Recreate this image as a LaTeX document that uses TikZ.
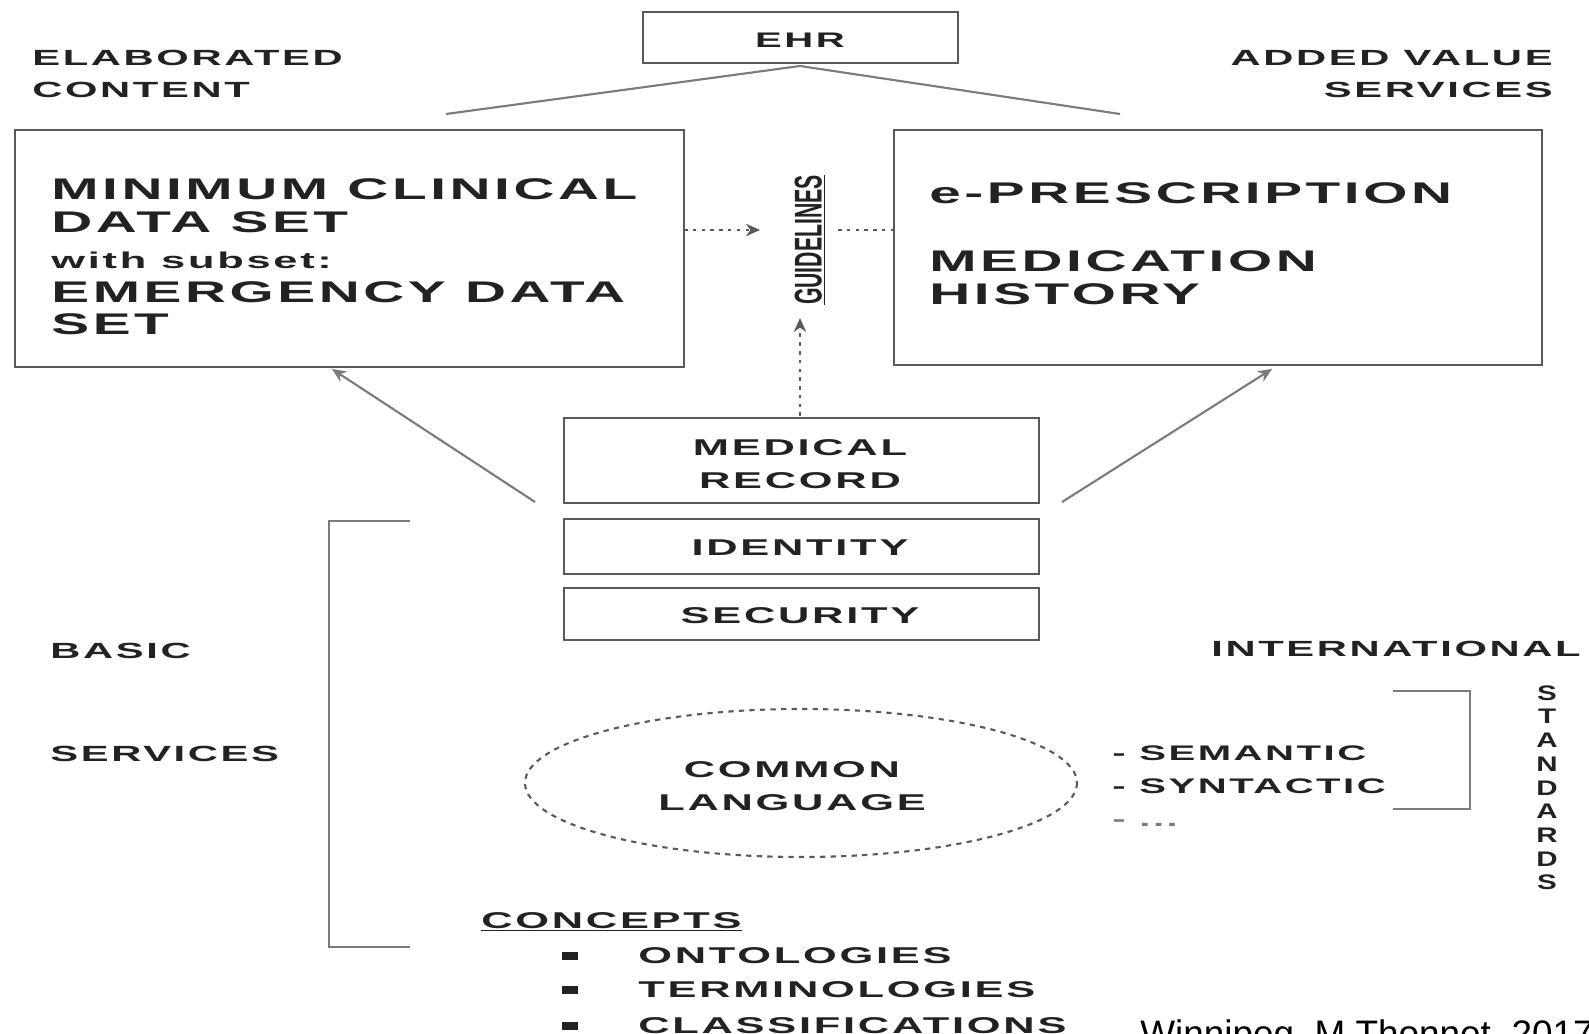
\documentclass[tikz,border=0pt]{standalone}
\usepackage{fontspec}
\setmainfont{Liberation Sans}
\newfontfamily\wf{Liberation Sans}[FakeStretch=1.9,LetterSpace=12]
\newfontfamily\gf{Liberation Sans}[FakeStretch=1.4]
\newfontfamily\cf{Liberation Sans}[FakeStretch=0.55]
\usetikzlibrary{arrows.meta}
\definecolor{ln}{HTML}{5A5A5A}
\definecolor{tx}{HTML}{222222}
\tikzset{
  box/.style={draw=ln,line width=1.6pt},
  lbl/.style={inner sep=0pt,text=tx,font=\wf\bfseries},
  conn/.style={draw=ln!80,line width=1.2pt},
  dots/.style={draw=ln,line width=1.4pt,dash pattern=on 2pt off 3pt},
  tip/.style={-{Stealth[length=8pt,width=7pt]}},
}
\newcommand{\fs}[1]{\fontsize{#1}{#1}\selectfont}
\begin{document}
\begin{tikzpicture}[x=0.02cm,y=-0.02cm]
\useasboundingbox (0,0) rectangle (1589,1034);
% EHR
\draw[box] (643,12) rectangle (958,63);
\node[lbl,font=\wf\bfseries\fs{12}] (ehr) at (800,40) {EHR};
\coordinate (ehrb) at (800,66);
\coordinate (ehrl) at (446,114);
\coordinate (ehrr) at (1120,114);
\draw[conn] (ehrl) -- (ehrb) -- (ehrr);
% corner labels
\node[lbl,anchor=west,font=\wf\bfseries\fs{12.5}] (elab) at (32,58) {ELABORATED};
\node[lbl,anchor=west,font=\wf\bfseries\fs{12.5}] (cont) at (32,90) {CONTENT};
\node[lbl,anchor=east,font=\wf\bfseries\fs{12.5}] (added) at (1553,58) {ADDED VALUE};
\node[lbl,anchor=east,font=\wf\bfseries\fs{12.5}] (serv) at (1553,90) {SERVICES};
% left box
\draw[box] (15,130) rectangle (684,367);
\coordinate (lbox) at (684,230);
\coordinate (lboxs) at (332,369);
\node[lbl,anchor=west,font=\wf\bfseries\fs{17}] (l1) at (51,189) {MINIMUM CLINICAL};
\node[lbl,anchor=west,font=\wf\bfseries\fs{17}] (l2) at (51,222) {DATA SET};
\node[lbl,anchor=west,font=\wf\bfseries\fs{13}] (l3) at (51,260) {with subset:};
\node[lbl,anchor=west,font=\wf\bfseries\fs{17}] (l4) at (51,292) {EMERGENCY DATA};
\node[lbl,anchor=west,font=\wf\bfseries\fs{17}] (l5) at (51,324) {SET};
% right box
\draw[box] (894,130) rectangle (1542,365);
\coordinate (rbox) at (894,230);
\coordinate (rboxs) at (1272,369);
\node[lbl,anchor=west,font=\wf\bfseries\fs{17}] (r1) at (929,193) {e-PRESCRIPTION};
\node[lbl,anchor=west,font=\wf\bfseries\fs{17}] (r2) at (929,261) {MEDICATION};
\node[lbl,anchor=west,font=\wf\bfseries\fs{17}] (r3) at (929,294) {HISTORY};
% guidelines
\node[lbl,rotate=90,font=\cf\bfseries\fs{22},inner sep=1pt] (guide) at (810,240) {\underline{GUIDELINES}};
\coordinate (gl) at (760,230);
\coordinate (gr) at (838,230);
\coordinate (gb) at (800,318);
\draw[dots,tip] (lbox) -- (gl);
\draw[dots] (gr) -- (rbox);
% stack
\draw[box] (564,418) rectangle (1039,503);
\node[lbl,font=\wf\bfseries\fs{13}] (med) at (800,448) {MEDICAL};
\node[lbl,font=\wf\bfseries\fs{13}] (rec) at (800,481) {RECORD};
\draw[box] (564,519) rectangle (1039,574);
\node[lbl,font=\wf\bfseries\fs{13}] (ident) at (800,548) {IDENTITY};
\draw[box] (564,588) rectangle (1039,640);
\node[lbl,font=\wf\bfseries\fs{13}] (secur) at (800,616) {SECURITY};
\coordinate (mrt) at (800,416);
\coordinate (mrl) at (535,502);
\coordinate (mrr) at (1062,502);
\draw[dots,tip] (mrt) -- (gb);
\draw[conn,tip] (mrl) -- (lboxs);
\draw[conn,tip] (mrr) -- (rboxs);
% left bracket
\coordinate (bt) at (410,521);
\coordinate (bb) at (410,947);
\draw[conn,line width=1.5pt] (bt) -- (329,521) -- (329,947) -- (bb);
\node[lbl,anchor=west,font=\wf\bfseries\fs{12.5}] (basic) at (50,651) {BASIC};
\node[lbl,anchor=west,font=\wf\bfseries\fs{12.5}] (bserv) at (50,754) {SERVICES};
% international
\node[lbl,anchor=east,font=\wf\bfseries\fs{12.5}] (intl) at (1581,649) {INTERNATIONAL};
% ellipse
\draw[ln,line width=1.2pt,dash pattern=on 3pt off 3pt] (801,783) ellipse [x radius=276, y radius=74];
\node[lbl,font=\wf\bfseries\fs{13}] (comm) at (792,770) {COMMON};
\node[lbl,font=\wf\bfseries\fs{13}] (lang) at (792,803) {LANGUAGE};
\node[lbl,anchor=west,font=\wf\bfseries\fs{12}] (sem) at (1112,753) {- SEMANTIC};
\node[lbl,anchor=west,font=\wf\bfseries\fs{12}] (syn) at (1112,786) {- SYNTACTIC};
\node[lbl,anchor=west,font=\wf\bfseries\fs{12},text=tx!60] (etc) at (1112,823) {- ...};
% right bracket
\draw[conn,line width=1.5pt] (1393,691) -- (1470,691) -- (1470,809) -- (1393,809);
% standards
\foreach \c [count=\i from 0] in {S,T,A,N,D,A,R,D,S}{
  \node[lbl,font=\gf\bfseries\fs{12}] (st\i) at (1547,{693+23.7*\i}) {\c};
}
% concepts
\node[lbl,anchor=west,font=\wf\bfseries\fs{13}] (conc) at (481,922) {\underline{CONCEPTS}};
\foreach \t/\yy [count=\i] in {ONTOLOGIES/956,TERMINOLOGIES/990,CLASSIFICATIONS/1026}{
  \node[fill=tx,inner sep=0pt,minimum width=9pt,minimum height=5pt] (bul\i) at (570,\yy) {};
  \node[lbl,anchor=west,font=\wf\bfseries\fs{13}] (item\i) at (638,\yy) {\t};
}
% footnote
\node[inner sep=0pt,anchor=base west,font=\fs{21},text=black] (foot) at (1140,1046) {Winnipeg, M Thonnet, 2017};
\end{tikzpicture}
\end{document}
